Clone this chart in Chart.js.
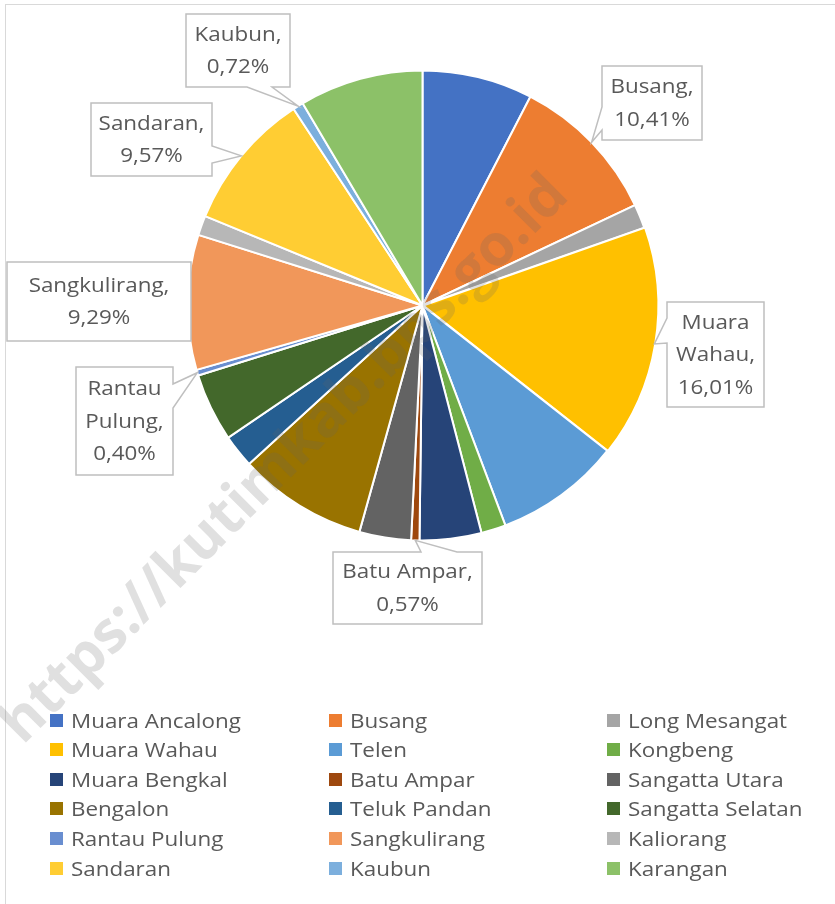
<!DOCTYPE html>
<html>
<head>
<meta charset="utf-8">
<script src="https://cdn.jsdelivr.net/npm/chart.js@4.4.1/dist/chart.umd.min.js"></script>
<style>
  html, body { margin: 0; padding: 0; background: #fff; overflow: hidden; }
  #wrap { position: relative; width: 835px; height: 904px; overflow: hidden; }
  #frame { position: absolute; left: 5px; top: 4px; width: 900px; height: 1000px; border: 1px solid #d9d9d9; box-sizing: border-box; }
  #share-chart { position: absolute; left: 0; top: 0; }
  .legend-item { position: absolute; display: flex; align-items: center; height: 28px; font-family: "Open Sans", sans-serif; font-size: 20px; color: #595959; white-space: nowrap; }
  .legend-box { width: 13px; height: 13px; margin-right: 8px; flex: none; }
  .legend-label { display: inline-block; transform: scaleX(1.12); transform-origin: left center; }
</style>
</head>
<body>
<div id="wrap">
  <div id="frame"></div>
  <canvas id="share-chart" width="835" height="904"></canvas>
  <div id="legend"></div>
</div>
<script>
const DISTRICTS = [
  "Muara Ancalong", "Busang", "Long Mesangat", "Muara Wahau", "Telen", "Kongbeng",
  "Muara Bengkal", "Batu Ampar", "Sangatta Utara", "Bengalon", "Teluk Pandan", "Sangatta Selatan",
  "Rantau Pulung", "Sangkulirang", "Kaliorang", "Sandaran", "Kaubun", "Karangan"
];
const SHARES = [7.60, 10.41, 1.64, 16.01, 8.67, 1.70, 4.25, 0.57, 3.56, 8.90, 2.28, 4.70, 0.40, 9.29, 1.35, 9.57, 0.72, 8.53];
const COLORS = [
  "#4472C4", "#ED7D31", "#A5A5A5", "#FFC000", "#5B9BD5", "#70AD47",
  "#264478", "#9E480E", "#636363", "#997300", "#255E91", "#43682B",
  "#698ED0", "#F1975A", "#B7B7B7", "#FFCD33", "#7CAFDD", "#8CC168"
];
const WATERMARK = "https://kutimkab.bps.go.id";

// which slices get a callout, and where the box sits
const CALLOUTS = [
  { index: 1,  box: [602, 66, 702, 140],  side: "left",   base: [107, 130], wrap: false },
  { index: 3,  box: [667, 302, 764, 407], side: "left",   base: [318, 343], wrap: true },
  { index: 7,  box: [333, 552, 482, 624], side: "top",    base: [421, 457], wrap: false },
  { index: 12, box: [76, 367, 173, 475],  side: "right",  base: [384, 408], wrap: true },
  { index: 13, box: [7, 262, 191, 341],   side: null,     base: null,       wrap: false },
  { index: 15, box: [91, 103, 212, 176],  side: "right",  base: [146, 163], wrap: false },
  { index: 16, box: [186, 14, 290, 87],   side: "bottom", base: [247, 272], wrap: false }
];

const fmtPct = v => v.toFixed(2).replace(".", ",") + "%";

function wideText(ctx, text, x, y) {
  ctx.save();
  ctx.translate(x, y);
  ctx.scale(1.12, 1);
  ctx.fillText(text, 0, 0);
  ctx.restore();
}

function calloutPath(ctx, c, tip) {
  const [x0, y0, x1, y1] = c.box;
  const b = c.base;
  ctx.beginPath();
  ctx.moveTo(x0, y0);
  if (c.side === "top") { ctx.lineTo(b[0], y0); ctx.lineTo(tip.x, tip.y); ctx.lineTo(b[1], y0); }
  ctx.lineTo(x1, y0);
  if (c.side === "right") { ctx.lineTo(x1, b[0]); ctx.lineTo(tip.x, tip.y); ctx.lineTo(x1, b[1]); }
  ctx.lineTo(x1, y1);
  if (c.side === "bottom") { ctx.lineTo(b[1], y1); ctx.lineTo(tip.x, tip.y); ctx.lineTo(b[0], y1); }
  ctx.lineTo(x0, y1);
  if (c.side === "left") { ctx.lineTo(x0, b[1]); ctx.lineTo(tip.x, tip.y); ctx.lineTo(x0, b[0]); }
  ctx.closePath();
}

const overlayPlugin = {
  id: "overlay",
  afterDatasetsDraw(chart) {
    const ctx = chart.ctx;
    const meta = chart.getDatasetMeta(0);

    // watermark
    ctx.save();
    ctx.translate(285, 460);
    ctx.rotate(-45 * Math.PI / 180);
    ctx.font = 'bold 58px "Open Sans"';
    ctx.fillStyle = "rgba(100,100,100,0.2)";
    ctx.textAlign = "center";
    ctx.textBaseline = "middle";
    ctx.fillText(WATERMARK, 0, 0);
    ctx.restore();

    // callouts
    CALLOUTS.forEach(c => {
      const arc = meta.data[c.index];
      const mid = (arc.startAngle + arc.endAngle) / 2;
      const tip = { x: arc.x + Math.cos(mid) * arc.outerRadius, y: arc.y + Math.sin(mid) * arc.outerRadius };
      ctx.save();
      calloutPath(ctx, c, tip);
      ctx.fillStyle = "#fff";
      ctx.fill();
      ctx.strokeStyle = "#bfbfbf";
      ctx.lineWidth = 1.5;
      ctx.stroke();

      const name = DISTRICTS[c.index] + ",";
      const lines = (c.wrap ? name.split(" ") : [name]).concat(fmtPct(SHARES[c.index]));
      const [x0, y0, x1, y1] = c.box;
      const cx = (x0 + x1) / 2, cy = (y0 + y1) / 2;
      ctx.font = '20px "Open Sans"';
      ctx.fillStyle = "#595959";
      ctx.textAlign = "center";
      ctx.textBaseline = "middle";
      lines.forEach((t, k) => wideText(ctx, t, cx, cy + (k - (lines.length - 1) / 2) * 32.5 + 1));
      ctx.restore();
    });
  }
};

function renderChart() {
  const ctx = document.getElementById("share-chart").getContext("2d");
  new Chart(ctx, {
    type: "pie",
    data: {
      labels: DISTRICTS,
      datasets: [{
        data: SHARES,
        backgroundColor: COLORS,
        borderColor: "#fff",
        borderWidth: 2,
        hoverOffset: 0,
        offset: DISTRICTS.map(d => d === "Muara Wahau" ? 3 : 0)
      }]
    },
    options: {
      responsive: false,
      animation: false,
      devicePixelRatio: 1,
      layout: { padding: { left: 185, right: 175, top: 68, bottom: 361 } },
      plugins: { legend: { display: false }, tooltip: { enabled: false } }
    },
    plugins: [overlayPlugin]
  });
}

function renderLegend() {
  const colX = [50, 329, 607];
  const el = document.getElementById("legend");
  el.innerHTML = DISTRICTS.map((d, i) => {
    const row = Math.floor(i / 3), col = i % 3;
    const top = 720 + row * 29.6 - 14;
    return `<div class="legend-item" style="left:${colX[col]}px;top:${top}px">
      <div class="legend-box" style="background:${COLORS[i]}"></div><span class="legend-label">${d}</span></div>`;
  }).join("");
}

renderChart();
renderLegend();
</script>
</body>
</html>
